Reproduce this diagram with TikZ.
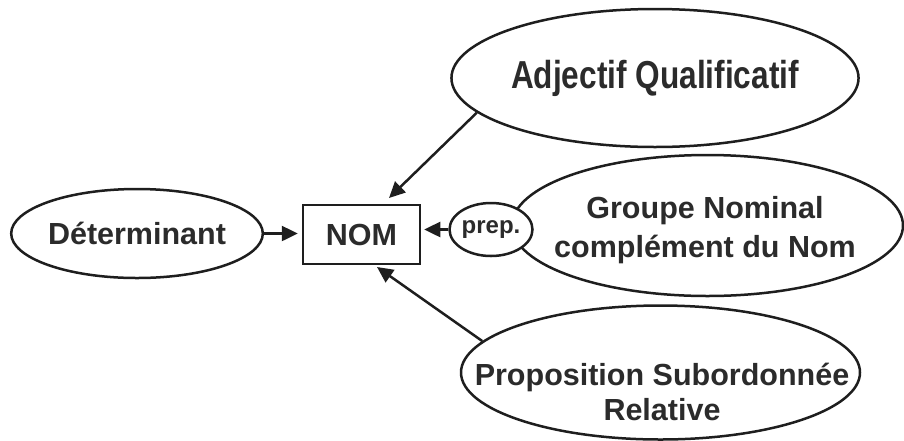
\documentclass[tikz,border=0pt]{standalone}
\usepackage{fontspec}
\setmainfont{Liberation Sans}
\usetikzlibrary{shapes.geometric,arrows.meta}
\definecolor{inkline}{HTML}{1E1E1E}
\definecolor{inktext}{HTML}{2B2B2B}
\tikzset{
  oval/.style={ellipse, draw=inkline, line width=2.5pt, fill=white, inner sep=0pt},
  nombox/.style={rectangle, draw=inkline, line width=2.5pt, inner sep=0pt,
    minimum width=117pt, minimum height=59pt},
  lbl/.style={text=inktext, font=\bfseries\fontsize{30.5}{39}\selectfont, align=center, inner sep=0pt},
  arr/.style={draw=inkline, line width=2.5pt, -{Triangle[length=16pt,width=15pt]}},
}
\begin{document}
\begin{tikzpicture}[x=1pt,y=-1pt]
\useasboundingbox (0,0) rectangle (904,440);
% ellipses
\node[oval, minimum width=400pt, minimum height=138pt, lbl,
  font=\bfseries\fontsize{39}{44}\selectfont] (adj) at (655,78)
  {\scalebox{0.81}[1]{Adjectif Qualificatif}};
\node[oval, minimum width=391pt, minimum height=141pt] (grp) at (707.5,225.5) {};
\node[lbl] (grptxt) at (705,230) {Groupe Nominal\\complément du Nom};
\node[oval, minimum width=78pt, minimum height=53pt, lbl,
  font=\bfseries\fontsize{24}{28}\selectfont] (prep) at (491,229.5) {prep.};
\node[oval, minimum width=399pt, minimum height=134pt] (prop) at (660.5,372.5) {};
\node[lbl, font=\bfseries\fontsize{30.5}{35}\selectfont] (proptxt) at (662,392)
  {Proposition Subordonnée\\Relative};
\node[oval, minimum width=250pt, minimum height=89pt, lbl] (det) at (137,233.5) {Déterminant};
\node[nombox, lbl] (nom) at (361.5,234.5) {NOM};
% tips
\coordinate (adjtip) at (389,198);
\coordinate (proptip) at (377,267);
% connectors
\draw[arr, shorten >=4pt] (det.east) -- (det.east -| nom.west);
\draw[arr, shorten >=3pt] (prep.west) -- (prep.west -| nom.east);
\draw[arr] (adj.191) -- (adjtip);
\draw[arr] (prop.170.5) -- (proptip);
\end{tikzpicture}
\end{document}
